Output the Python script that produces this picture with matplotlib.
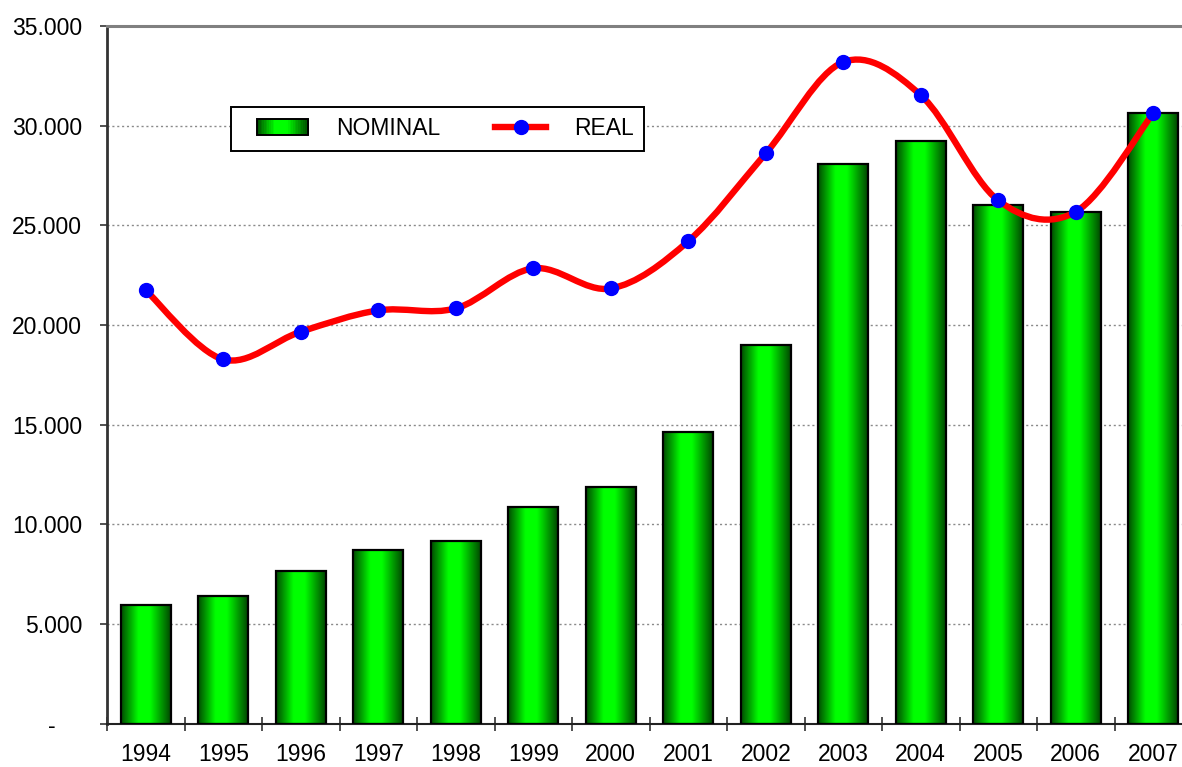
import numpy as np
import matplotlib
matplotlib.use('Agg')
import matplotlib.pyplot as plt
from matplotlib.path import Path
from matplotlib.patches import PathPatch, Rectangle
from matplotlib.lines import Line2D
from matplotlib.colors import LinearSegmentedColormap
from matplotlib.legend_handler import HandlerBase
from matplotlib.ticker import FuncFormatter, FixedLocator
from matplotlib.transforms import ScaledTranslation

plt.rcParams['font.family'] = ['Liberation Sans', 'DejaVu Sans']

years = ['1994', '1995', '1996', '1997', '1998', '1999', '2000',
         '2001', '2002', '2003', '2004', '2005', '2006', '2007']
nominal = [5950, 6380, 7650, 8690, 9140, 10880, 11880,
           14620, 18980, 28060, 29230, 26020, 25680, 30620]
real = [21740, 18270, 19660, 20730, 20830, 22840, 21830,
        24200, 28610, 33190, 31530, 26250, 25680, 30630]

FS = 16.5
bar_w = 0.645
green = LinearSegmentedColormap.from_list(
    'bar', [(0, '#004e00'), (0.35, '#00ff00'), (0.58, '#00ff00'), (1, '#004a00')])

fig = plt.figure(figsize=(11.82, 7.67), dpi=100)
ax = fig.add_axes([107/1182, 1-723.5/767, (1192-107)/1182, (723.5-26)/767])

x = np.arange(len(years))

# gradient bars
grad = np.linspace(0, 1, 64).reshape(1, -1)
for xi, v in zip(x, nominal):
    ax.imshow(grad, extent=(xi-bar_w/2, xi+bar_w/2, 0, v), cmap=green,
              aspect='auto', interpolation='bilinear', zorder=2)
ax.bar(x, nominal, width=bar_w, fill=False, edgecolor='black', linewidth=1.6, zorder=3)

# smoothed line (catmull-rom as bezier segments)
P = np.column_stack([x, real]).astype(float)
verts = [P[0]]
codes = [Path.MOVETO]
n = len(P)
for i in range(n-1):
    p0 = P[i-1] if i > 0 else P[i]
    p3 = P[i+2] if i+2 < n else P[i+1]
    c1 = P[i] + (P[i+1]-p0)/6
    c2 = P[i+1] - (p3-P[i])/6
    verts += [c1, c2, P[i+1]]
    codes += [Path.CURVE4]*3
ax.add_patch(PathPatch(Path(verts, codes), fill=False, edgecolor='#ff0000',
                       linewidth=4.6, capstyle='round', joinstyle='round', zorder=4))
ax.plot(x, real, 'o', color='#0000ff', markersize=10, zorder=5)

ax.set_xlim(-0.5, len(years)-0.5)
ax.set_ylim(0, 35000)

# axes styling
ax.yaxis.set_major_locator(FixedLocator(np.arange(0, 35001, 5000)))
ax.yaxis.set_major_formatter(FuncFormatter(
    lambda v, p: '-' if v == 0 else f'{int(v):,}'.replace(',', '.')))
ax.yaxis.grid(True, linestyle=(0, (1.5, 2)), color='#8a8a8a', linewidth=1)
ax.set_axisbelow(True)
ax.tick_params(axis='y', direction='out', length=5, width=1.2, color='#333333',
               labelsize=FS, pad=13)

ax.xaxis.set_major_locator(FixedLocator(np.arange(-0.5, len(years), 1)))
ax.xaxis.set_major_formatter(FuncFormatter(lambda v, p: ''))
ax.xaxis.set_minor_locator(FixedLocator(x))
ax.set_xticklabels(years, minor=True)
ax.tick_params(axis='x', which='major', direction='inout', length=10, width=1.2, color='#333333')
ax.tick_params(axis='x', which='minor', length=0, labelsize=FS, pad=14)

# zero label "-" sits further left, like the accounting format
zero_lbl = ax.yaxis.get_major_ticks()[0].label1
zero_lbl.set_transform(zero_lbl.get_transform() + ScaledTranslation(-0.26, 0, fig.dpi_scale_trans))

ax.spines['left'].set_color('#333333')
ax.spines['left'].set_linewidth(2)
ax.spines['bottom'].set_color('#222222')
ax.spines['bottom'].set_linewidth(1.5)
ax.spines['top'].set_color('#808080')
ax.spines['top'].set_linewidth(2.2)
ax.spines['right'].set_visible(False)


class GradHandler(HandlerBase):
    def create_artists(self, legend, orig, xd, yd, width, height, fontsize, trans):
        pw = 36.7
        x0 = -xd + width - pw
        y0 = -yd
        arts = []
        k = 30
        for j in range(k):
            arts.append(Rectangle((x0 + j*pw/k, y0), pw/k + 0.2, height,
                                  facecolor=green((j+0.5)/k), edgecolor='none',
                                  transform=trans))
        arts.append(Rectangle((x0, y0), pw, height, fill=False, edgecolor='black',
                              linewidth=1.4, transform=trans))
        return arts


class LineHandler(HandlerBase):
    def create_artists(self, legend, orig, xd, yd, width, height, fontsize, trans):
        pw = 36.7
        x0 = -xd + width - pw
        yc = -yd + height/2
        ln = Line2D([x0, x0+pw], [yc, yc], color='#ff0000', linewidth=4.6, transform=trans)
        mk = Line2D([x0+pw/2], [yc], marker='o', color='#0000ff', markersize=10,
                    linestyle='none', transform=trans)
        return [ln, mk]


h_nom = Rectangle((0, 0), 1, 1)
h_real = Line2D([], [])
leg = fig.legend([h_nom, h_real], ['NOMINAL', 'REAL'], ncol=2,
                 loc='upper left', bbox_to_anchor=(231/1182, 1-107/767),
                 bbox_transform=fig.transFigure, borderaxespad=0,
                 handler_map={Rectangle: GradHandler(), Line2D: LineHandler()},
                 fontsize=FS, handlelength=2.92, handletextpad=1.2, columnspacing=1.72,
                 borderpad=0.45, fancybox=False, framealpha=1)
leg.get_frame().set_edgecolor('black')
leg.get_frame().set_linewidth(1.4)

fig.savefig('out.png', dpi=100)
